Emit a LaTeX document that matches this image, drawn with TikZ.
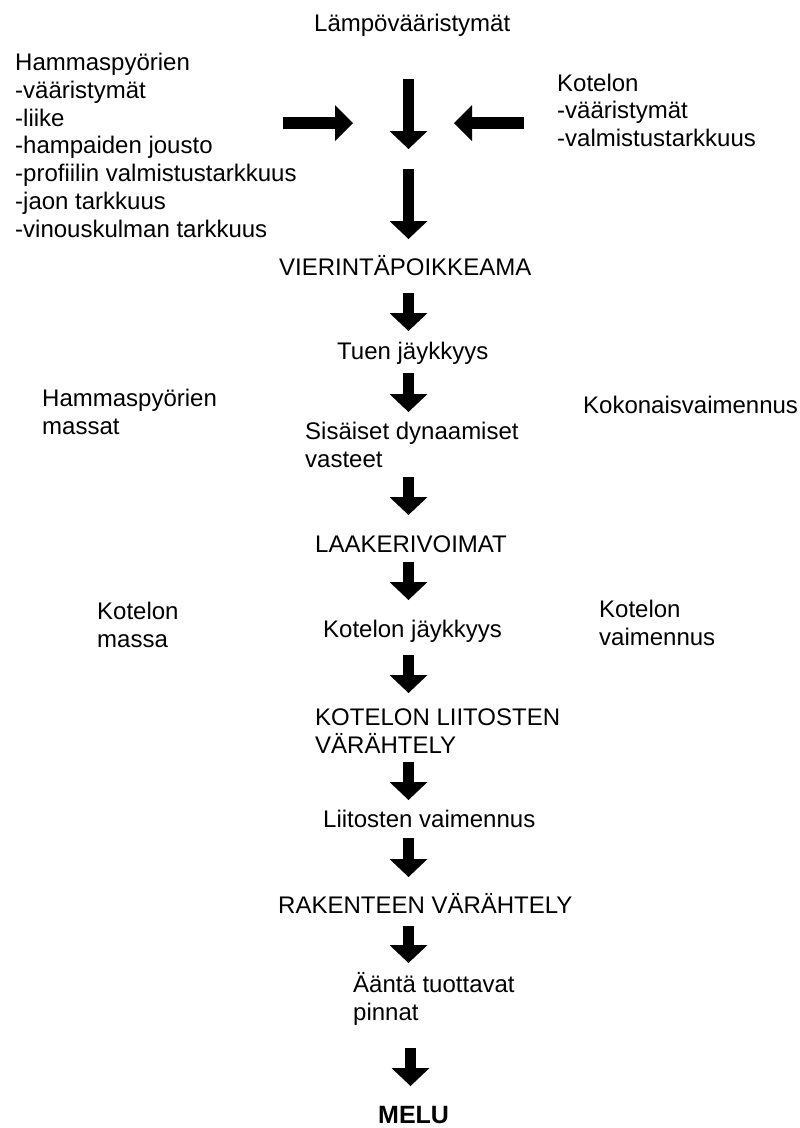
\documentclass[tikz,border=0pt]{standalone}
\usepackage{fontspec}
\setmainfont{Liberation Sans}
\usetikzlibrary{arrows.meta}
\begin{document}
\begin{tikzpicture}[x=1pt,y=-1pt,
  lbl/.style={inner sep=0pt, anchor=base west, align=left,
    font=\fontsize{24}{27.7}\selectfont},
  blockarrow/.style={line width=11.5pt, line cap=butt,
    -{Triangle[length=18pt,width=38pt,line width=0pt]}},
  sidearrow/.style={line width=12pt, line cap=butt,
    -{Triangle[length=18pt,width=36pt,line width=0pt]}}]
\useasboundingbox (0,0) rectangle (800,1128);

% texts (multi-line nodes are placed by the baseline of their last line)
\node[lbl] (lampo) at (314,31) {Lämpövääristymät};
\node[lbl] (hammas) at (15,237) {Hammaspyörien\\-vääristymät\\-liike\\-hampaiden jousto\\-profiilin valmistustarkkuus\\-jaon tarkkuus\\-vinouskulman tarkkuus};
\node[lbl] (kotelo) at (557,146.5) {Kotelon\\-vääristymät\\-valmistustarkkuus};
\node[lbl] (vierinta) at (279,275) {VIERINTÄPOIKKEAMA};
\node[lbl] (tuen) at (337,359) {Tuen jäykkyys};
\node[lbl] (hmassat) at (42,434.5) {Hammaspyörien\\massat};
\node[lbl] (kokon) at (583,413) {Kokonaisvaimennus};
\node[lbl] (sisaiset) at (305,467) {Sisäiset dynaamiset\\vasteet};
\node[lbl] (laakeri) at (315,552) {LAAKERIVOIMAT};
\node[lbl] (kmassa) at (97,647) {Kotelon\\massa};
\node[lbl] (kjaykk) at (323,637) {Kotelon jäykkyys};
\node[lbl] (kvaim) at (599,645.5) {Kotelon\\vaimennus};
\node[lbl] (kliit) at (315,753) {KOTELON LIITOSTEN\\VÄRÄHTELY};
\node[lbl] (lvaim) at (323,827) {Liitosten vaimennus};
\node[lbl] (rakenne) at (278,913) {RAKENTEEN VÄRÄHTELY};
\node[lbl] (aanta) at (353,1020) {Ääntä tuottavat\\pinnat};
\node[inner sep=0pt, anchor=base west, font=\fontsize{25}{30}\selectfont\bfseries] (melu) at (378,1123) {MELU};

% arrow end points
\coordinate (h1s) at (283,123); \coordinate (h1e) at (353,123);
\coordinate (h2s) at (524,123); \coordinate (h2e) at (454,123);
\coordinate (a1s) at (408.5,79);  \coordinate (a1e) at (408.5,149);
\coordinate (a2s) at (408.5,169); \coordinate (a2e) at (408.5,239);
\coordinate (a3s) at (408.5,293); \coordinate (a3e) at (408.5,331);
\coordinate (a4s) at (408.5,373); \coordinate (a4e) at (408.5,412);
\coordinate (a5s) at (408.5,477); \coordinate (a5e) at (408.5,515);
\coordinate (a6s) at (408.5,562); \coordinate (a6e) at (408.5,600);
\coordinate (a7s) at (408.5,655); \coordinate (a7e) at (408.5,693);
\coordinate (a8s) at (408.5,762); \coordinate (a8e) at (408.5,800);
\coordinate (a9s) at (408.5,838); \coordinate (a9e) at (408.5,877);
\coordinate (a10s) at (408.5,926); \coordinate (a10e) at (408.5,963);
\coordinate (a11s) at (410.5,1048); \coordinate (a11e) at (410.5,1086);

\draw[sidearrow] (h1s) -- (h1e);
\draw[sidearrow] (h2s) -- (h2e);
\foreach \i in {1,...,11} {\draw[blockarrow] (a\i s) -- (a\i e);}
\end{tikzpicture}
\end{document}
